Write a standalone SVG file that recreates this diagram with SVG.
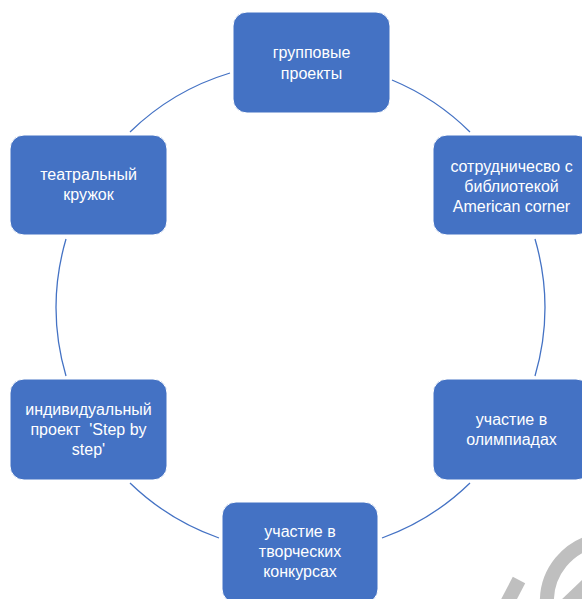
<svg xmlns="http://www.w3.org/2000/svg" width="582" height="599" viewBox="0 0 582 599">
<style>
.box{fill:#4472C4;stroke:#ffffff;stroke-width:1}
.lbl{fill:#ffffff;font-family:"Liberation Sans",Arial,sans-serif;font-size:16px;text-anchor:middle;white-space:pre}
.arc{fill:none;stroke:#4472C4;stroke-width:1.3}
.wm{fill:none;stroke:#bfbfbf;stroke-width:14}
</style>
<rect width="582" height="599" fill="#ffffff"/>
<g id="connectors">
<path class="arc" d="M130,132 A244.5,244.5 0 0 1 230,73"/>
<path class="arc" d="M392,80 A244.5,244.5 0 0 1 470,132"/>
<path class="arc" d="M535,239 A244.5,244.5 0 0 1 535,376"/>
<path class="arc" d="M470,483 A244.5,244.5 0 0 1 382,538"/>
<path class="arc" d="M219,538 A244.5,244.5 0 0 1 130,483"/>
<path class="arc" d="M66,376 A244.5,244.5 0 0 1 66,239"/>
</g>
<g id="node-top">
<rect class="box" x="233" y="12" width="157" height="101" rx="14"/>
<text class="lbl" x="311.5" y="58">групповые</text>
<text class="lbl" x="311.5" y="79">проекты</text>
</g>
<g id="node-right-upper">
<rect class="box" x="433" y="135" width="157" height="100" rx="14"/>
<text class="lbl" x="511.5" y="172">сотрудничесво с</text>
<text class="lbl" x="511.5" y="192">библиотекой</text>
<text class="lbl" x="511.5" y="212">American corner</text>
</g>
<g id="node-right-lower">
<rect class="box" x="433" y="379" width="157" height="101" rx="14"/>
<text class="lbl" x="511.5" y="425">участие в</text>
<text class="lbl" x="511.5" y="445">олимпиадах</text>
</g>
<g id="node-bottom">
<rect class="box" x="222" y="502" width="156" height="101" rx="14"/>
<text class="lbl" x="300" y="537">участие в</text>
<text class="lbl" x="300" y="557">творческих</text>
<text class="lbl" x="300" y="577">конкурсах</text>
</g>
<g id="node-left-lower">
<rect class="box" x="10" y="379" width="157" height="101" rx="14"/>
<text class="lbl" x="88.5" y="415">индивидуальный</text>
<text class="lbl" x="88.5" y="435" xml:space="preserve">проект  'Step by</text>
<text class="lbl" x="88.5" y="455">step'</text>
</g>
<g id="node-left-upper">
<rect class="box" x="10" y="135" width="157" height="100" rx="14"/>
<text class="lbl" x="88.5" y="180">театральный</text>
<text class="lbl" x="88.5" y="200">кружок</text>
</g>
<g id="watermark">
<path class="wm" d="M547,605 A62,62 0 0 1 600,540"/>
<path class="wm" d="M566,605 L590,582"/>
<path class="wm" d="M506,605 L519,580"/>
</g>
</svg>
